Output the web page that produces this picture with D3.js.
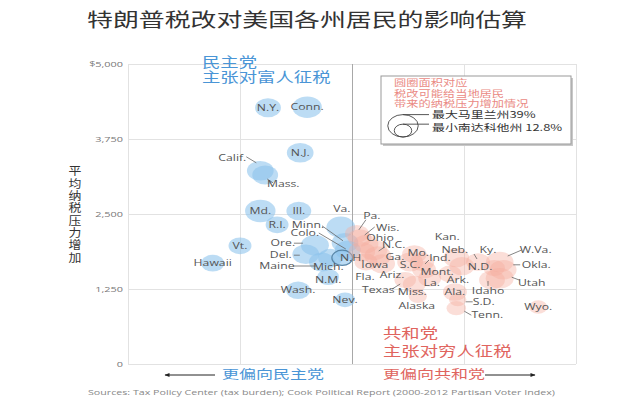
<!DOCTYPE html>
<html><head><meta charset="utf-8">
<script src="https://cdn.jsdelivr.net/npm/d3@7"></script>
<style>body{margin:0;background:#fff}svg{display:block;font-family:"Open Sans","Noto Sans CJK SC",sans-serif}</style>
</head><body><svg id="c" width="640" height="400"></svg>
<script>
// ---- data ----
const states = ["N.Y.","Conn.","N.J.","Calif.","Mass.","Md.","Ill.","R.I.","Va.","Minn.","Colo.","Ore.","Del.","Maine","Mich.","N.H.","N.M.","Vt.","Hawaii","Wash.","Nev.",
  "Pa.","Wis.","Ohio","Iowa","N.C.","Ga.","Fla.","Ariz.","Texas","S.C.","Mo.","Ind.","Mont.","La.","Miss.","Alaska","Kan.","Neb.","Ark.","Ala.","S.D.","Tenn.","Ky.","N.D.","W.Va.","Okla.","Utah","Idaho","Wyo."];
const lean = [-12.0,-6.4,-7.4,-13.1,-12.4,-13.1,-7.6,-10.7,-1.6,-1.0,-0.6,-5.3,-6.6,-4.3,-3.1,-1.4,-3.4,-16.0,-19.9,-7.7,-1.0,
  0.7,1.1,2.0,1.4,3.1,3.7,2.0,4.3,7.6,8.3,8.9,10.0,10.3,11.1,8.9,9.4,14.9,15.7,14.0,14.7,15.1,14.9,18.0,20.3,21.1,21.6,21.1,20.0,26.6];
const taxIncrease = [4270,4280,3520,3220,3150,2550,2550,2320,2280,2020,1900,1980,1830,1700,1770,1770,1450,1970,1680,1230,1070,
  2170,2100,2000,1870,1900,1800,1700,1670,1400,1700,1830,1700,1570,1430,1330,1130,1770,1630,1500,1200,1070,930,1700,1600,1700,1570,1430,1400,950];
const burdenPct = [28,36,30,30,28,39,26,22,35,30,28,33,30,28,25,18,20,22,22,24,17,
  24,24,26,30,32,30,22,28,20,28,25,25,24,22,22,14,28,26,22,24,12.8,16,24,20,32,30,33,28,14];
const party = states.map((s,i)=> i < 21 ? "D" : "R");
const yTicks = [0,1250,2500,3750,5000];
const yTickLabels = ["0","1,250","2,500","3,750","$5,000"];
const xTicks = [-32,-16,0,16,32];
const legendPct = [39, 12.8];
const legendLabels = ["最大马里兰州39%","最小南达科他州 12.8%"];
const legendNote = ["圆圈面积对应","税改可能给当地居民","带来的纳税压力增加情况"];
const demNote = ["民主党","主张对富人征税"];
const repNote = ["共和党","主张对穷人征税"];
const title = "特朗普税改对美国各州居民的影响估算";
const yTitle = "平均纳税压力增加";
const source = "Sources: Tax Policy Center (tax burden); Cook Political Report (2000-2012 Partisan Voter Index)";

// ---- layout (label offsets from bubble centre, optional leader line) ----
const labelLayout = {
 "Calif.":[-28,-13,[-14,-14,-4,-8]], "Mass.":[18,9,[8,8,2,4]], "Va.":[1,-18],
 "Minn.":[-37,-18,[-23,-17,-2,-2]], "Colo.":[-43,-17,[-29,-17,-2,-1]],
 "Ore.":[-32,-2,[-21,-2,-12,-2]], "Del.":[-25,1,[-12,1,-6,1]], "Maine":[-45,4,[-29,4,-6,4]],
 "Mich.":[-2,9], "N.H.":[10,0], "N.M.":[0,3],
 "Pa.":[15,-18,[9,-14,2,-4]], "Wis.":[28,-10,[15,-11,5,-3]], "Ohio":[14,-6],
 "Iowa":[13,13], "N.C.":[20,-5,[11,-3,5,1]], "Ga.":[17,1], "Fla.":[-1,15], "Ariz.":[10,11],
 "Texas":[-27,10,[-13,9,-5,4]], "S.C.":[0,3], "Mo.":[4,-1], "Ind.":[18,-4,[7,-2,3,2]],
 "Mont.":[13,2], "La.":[2,5], "Miss.":[-2,8], "Alaska":[-1,10], "Kan.":[-9,-21], "Neb.":[-7,-16],
 "Ark.":[8,6], "S.D.":[26,2,[15,2,8,2]], "Tenn.":[31,7,[15,7,8,3]], "Ky.":[10,-12,[-4,-8,-1,-3]],
 "N.D.":[-14,-1], "W.Va.":[36,-12,[22,-12,8,-6]], "Okla.":[33,-5,[17,-5,10,-5]],
 "Utah":[32,5,[20,2,12,-1]], "Idaho":[-4,11,[-4,1,-4,6]]
};

const SX = 1.36; // horizontal stretch of the original picture
const svg = d3.select("#c");
const M = {l:128, r:576, t:64, b:364};
const x = d3.scaleLinear().domain([-32,32]).range([M.l, M.r]);
const y = d3.scaleLinear().domain([0,5000]).range([M.b, M.t]);
const r = d3.scaleSqrt().domain([0,39]).range([0,11.2]);

function T(g, px, py, s, size, fill, anchor="start", sx=SX){
  return g.append("text").attr("transform",`translate(${px},${py}) scale(${sx},1)`)
   .attr("font-size",size).attr("fill",fill).attr("text-anchor",anchor).attr("dy","0.35em").text(s);
}
function T2(g, px, py, lines, size, fill, step){
  const t = g.append("text").attr("transform",`translate(${px},${py}) scale(${SX},1)`)
   .attr("font-size",size).attr("fill",fill);
  lines.forEach((s,i)=> t.append("tspan").attr("x",0).attr("y", i*step).attr("dy","0.35em").text(s));
  return t;
}

// title
svg.append("text").attr("x",87).attr("y",27).attr("font-size",19).attr("fill","#333")
  .attr("font-family","Noto Sans CJK SC").attr("textLength",440).attr("lengthAdjust","spacingAndGlyphs").text(title);

// grid
const gy = svg.append("g").attr("transform",`translate(${M.l},0)`)
  .call(d3.axisLeft(y).tickValues(yTicks).tickFormat((d,i)=>yTickLabels[i]).tickSize(-(M.r-M.l)).tickPadding(0));
gy.select(".domain").remove();
gy.selectAll("line").attr("stroke","#e2e2e2");
gy.selectAll("text").attr("x",null).attr("transform",`translate(-5,0) scale(${SX},1)`)
  .attr("font-size",8).attr("fill","#777").attr("font-family","Open Sans");
const gx = svg.append("g").attr("transform",`translate(0,${M.b})`)
  .call(d3.axisBottom(x).tickValues(xTicks).tickFormat("").tickSize(-(M.b-M.t)));
gx.select(".domain").remove();
gx.selectAll("line").attr("stroke",d=> d===0 ? "#a8a8a8" : "#e2e2e2");

// y title (vertical writing, one text element)
svg.append("text").attr("transform","translate(75,165) scale(1.12,1)")
  .attr("font-family","Noto Sans CJK SC").attr("font-size",11.5).attr("fill","#333")
  .style("writing-mode","vertical-rl").attr("letter-spacing",0.9).text(yTitle);

// quadrant notes
const qb = svg.append("g").attr("font-family","Noto Sans CJK SC");
T2(qb, 202, 62, demNote, 13.5, "#4a95d6", 15);
T2(qb, 383, 333, repNote, 13.5, "#e0645e", 18);

// bubbles
const data = states.map((s,i)=>({s, x:lean[i], y:taxIncrease[i], p:burdenPct[i], party:party[i]}));
const gb = svg.append("g");
gb.selectAll("ellipse").data(data).join("ellipse")
  .attr("cx",d=>x(d.x)).attr("cy",d=>y(d.y))
  .attr("rx",d=>r(d.p)*SX).attr("ry",d=>r(d.p))
  .attr("fill",d=>d.party==="D" ? "#8cc3ec" : "#f5ac9d")
  .attr("fill-opacity",d=>d.party==="D" ? 0.58 : 0.4)
  .attr("stroke",d=>d.s==="N.H." ? "#5a87a8" : "none").attr("stroke-width",1.2);

// labels
const gl = svg.append("g").attr("font-family","Open Sans");
data.forEach(d=>{
  const L = labelLayout[d.s] || [0,0];
  const cx = x(d.x), cy = y(d.y);
  if (L[2]) gl.append("path").attr("d",`M${cx+L[2][0]},${cy+L[2][1]}L${cx+L[2][2]},${cy+L[2][3]}`)
     .attr("stroke","#666").attr("stroke-width",0.8).attr("fill","none");
  T(gl, cx+L[0], cy+L[1], d.s, 9, "#555", "middle");
});

// legend
const lg = svg.append("g");
lg.append("rect").attr("x",383).attr("y",78).attr("width",190).attr("height",68).attr("fill","#c8c8c8");
lg.append("rect").attr("x",381).attr("y",76).attr("width",190).attr("height",68).attr("fill","#fff").attr("stroke","#999");
const ln = lg.append("g").attr("font-family","Noto Sans CJK SC");
T2(ln, 394, 83, legendNote, 9, "#ea8a84", 10.5);
legendPct.forEach((p,i)=>{
  const rr = r(p), cy = 137 - rr;
  lg.append("ellipse").attr("cx",403).attr("cy",cy).attr("rx",rr*SX).attr("ry",rr)
    .attr("fill","none").attr("stroke","#444").attr("stroke-width",0.9);
  lg.append("path").attr("d",`M${403},${cy-rr}L${429},${cy-rr}`).attr("stroke","#444").attr("stroke-width",0.9);
});
T2(ln, 432, 115, legendLabels, 9.5, "#333", 13);

// arrows
const defs = svg.append("defs");
defs.append("marker").attr("id","ah").attr("viewBox","0 0 10 10").attr("refX",9).attr("refY",5)
  .attr("markerWidth",6).attr("markerHeight",5).attr("orient","auto")
  .append("path").attr("d","M0,1L10,5L0,9Z").attr("fill","#222");
svg.append("line").attr("x1",215).attr("y1",375).attr("x2",165).attr("y2",375).attr("stroke","#222").attr("stroke-width",1).attr("marker-end","url(#ah)");
svg.append("line").attr("x1",485).attr("y1",375).attr("x2",535).attr("y2",375).attr("stroke","#222").attr("stroke-width",1).attr("marker-end","url(#ah)");
const ab = svg.append("g").attr("font-family","Noto Sans CJK SC");
T(ab, 222, 375, "更偏向民主党", 12.5, "#4a95d6");
T(ab, 383, 375, "更偏向共和党", 12.5, "#e0645e");

// source
svg.append("text").attr("x",88).attr("y",395).attr("font-size",7.5).attr("fill","#888")
  .attr("textLength",467).attr("lengthAdjust","spacingAndGlyphs").text(source);
</script></body></html>
